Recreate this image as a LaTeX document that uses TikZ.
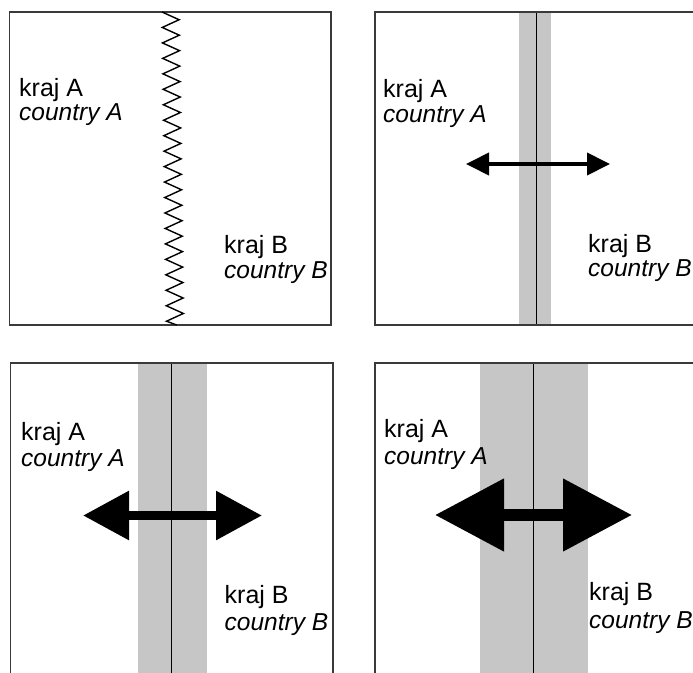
\documentclass[tikz,border=0pt]{standalone}
\usepackage{fontspec}
\setmainfont{Liberation Sans}
\usetikzlibrary{arrows.meta}
\definecolor{bandgray}{HTML}{C6C6C6}
\definecolor{framegray}{HTML}{3A3A3A}
\tikzset{
  panel/.style={draw=framegray, line width=1.6pt},
  band/.style={fill=bandgray, draw=none},
  border/.style={draw=black, line width=1pt},
  lblk/.style={anchor=base west, inner sep=0pt, font=\fontsize{25}{28}\selectfont},
  lble/.style={anchor=base west, inner sep=0pt, font=\fontsize{24.5}{28}\selectfont\itshape},
}
\begin{document}
\begin{tikzpicture}[x=1pt,y=-1pt]
\useasboundingbox (0,0) rectangle (693,672);
\clip (0,0) rectangle (693,672);
\fill[white] (0,0) rectangle (693,672);

% ---------- panel 1 (top left): zigzag border
\draw[panel] (9.5,12) rectangle (331,325);
\coordinate (z0) at (162,12);
\coordinate (zend) at (176.7,325);
\draw[line width=1.4pt, line join=miter] (z0)
  \foreach \i in {1,...,40} { -- ({170.5+4.5*\i/40 - 8.5*cos(180*\i)}, {12+7.73*\i}) } -- (zend);
\node[lblk] (a1) at (19,96) {kraj A};
\node[lble] (ca1) at (19,120) {country A};
\node[lblk] (b1) at (224,253) {kraj B};
\node[lble] (cb1) at (224,278) {country B};

% ---------- panel 2 (top right): narrow band
\fill[band] (519,12) rectangle (551,325);
\draw[border] (536,12) -- (536,325);
\draw[panel] (375,12) rectangle (720,325);
\coordinate (l2) at (466,164);
\coordinate (r2) at (610,164);
\draw[line width=4pt, {Triangle[length=23pt,width=22pt]}-{Triangle[length=23pt,width=22pt]}] (l2) -- (r2);
\node[lblk] (a2) at (383,97) {kraj A};
\node[lble] (ca2) at (383,122) {country A};
\node[lblk] (b2) at (588,252) {kraj B};
\node[lble] (cb2) at (588,276) {country B};

% ---------- panel 3 (bottom left): medium band
\fill[band] (137.5,363) rectangle (206.5,690);
\draw[border] (171.5,363) -- (171.5,690);
\draw[panel] (10.5,363) rectangle (333,690);
\coordinate (l3) at (83,515.5);
\coordinate (r3) at (262,515.5);
\draw[line width=9pt, {Triangle[length=46pt,width=47pt]}-{Triangle[length=46pt,width=47pt]}] (l3) -- (r3);
\node[lblk] (a3) at (21,440) {kraj A};
\node[lble] (ca3) at (21,466) {country A};
\node[lblk] (b3) at (224.5,603) {kraj B};
\node[lble] (cb3) at (224.5,630) {country B};

% ---------- panel 4 (bottom right): wide band
\fill[band] (479.5,363) rectangle (587.5,690);
\draw[border] (533.5,363) -- (533.5,690);
\draw[panel] (375,363) rectangle (720,690);
\coordinate (l4) at (435,515);
\coordinate (r4) at (632,515);
\draw[line width=11.5pt, {Triangle[length=69pt,width=70pt]}-{Triangle[length=69pt,width=70pt]}] (l4) -- (r4);
\node[lblk] (a4) at (384,437) {kraj A};
\node[lble] (ca4) at (384,464) {country A};
\node[lblk] (b4) at (589,600) {kraj B};
\node[lble] (cb4) at (589,628) {country B};
\end{tikzpicture}
\end{document}
